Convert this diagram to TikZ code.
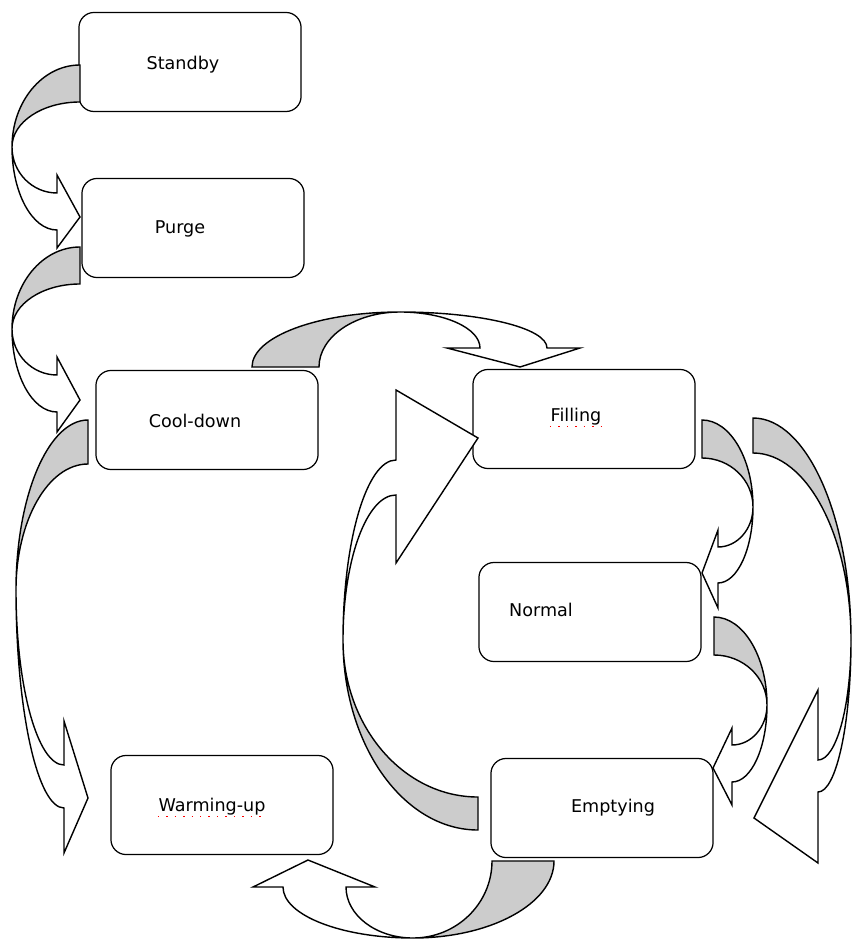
\documentclass[tikz,border=0pt]{standalone}
\usepackage{fontspec}
\setmainfont{DejaVu Sans}
\definecolor{bandgray}{RGB}{204,204,204}

\begin{document}
\begin{tikzpicture}[x=0.01cm, y=-0.01cm,
    state/.style={draw, fill=white, line width=0.35pt, rounded corners=4.3pt,
        minimum width=2.22cm, minimum height=0.99cm, inner sep=0pt},
    lbl/.style={inner sep=0pt, font=\fontsize{5}{6}\selectfont},
    band/.style={draw, line width=0.4pt, line join=miter},
    back/.style={band, fill=bandgray},
    front/.style={band, fill=white},
    spell/.style={red, dotted, line width=0.4pt}]

    \useasboundingbox (0,0) rectangle (852,940);

    %% States

    % Standby
    \node[state] (standby) at (190,62) {};
    \node[lbl] (standbytxt) at ([shift={(-7,3)}]standby.center) {Standby};

    % Purge
    \node[state] (purge) at (193,228) {};
    \node[lbl] (purgetxt) at ([shift={(-13,1)}]purge.center) {Purge};

    % Cool-down
    \node[state] (cooldown) at (207,420) {};
    \node[lbl] (cooldowntxt) at ([shift={(-12,1)}]cooldown.center) {Cool-down};

    % Filling
    \node[state] (filling) at (584,419) {};
    \node[lbl] (fillingtxt) at ([shift={(-8,-2)}]filling.center) {Filling};
    \draw[spell] ([yshift=-1.3pt]fillingtxt.base west) -- ([yshift=-1.3pt]fillingtxt.base east);

    % Normal
    \node[state] (normal) at (590,612) {};
    \node[lbl] (normaltxt) at ([shift={(-49,-2)}]normal.center) {Normal};

    % Emptying
    \node[state] (emptying) at (602,808) {};
    \node[lbl] (emptyingtxt) at ([shift={(11,0)}]emptying.center) {Emptying};

    % Warming-up
    \node[state] (warmingup) at (222,805) {};
    \node[lbl] (warmingtxt) at ([shift={(-10,2)}]warmingup.center) {Warming-up};
    \draw[spell] ([yshift=-1.3pt]warmingtxt.base west) -- ([yshift=-1.3pt]warmingtxt.base east);

    %% Curved arrows

    % Cool-down to Warming-up
    \draw[back] (88,420) arc[start angle=270, end angle=180, x radius=72, y radius=170]
        arc[start angle=180, end angle=270, x radius=72, y radius=126] -- cycle;
    \draw[front] (16,590) arc[start angle=180, end angle=90, x radius=48, y radius=218]
        -- (64,853) -- (88,798) -- (64,721) -- (64,765)
        arc[start angle=90, end angle=180, x radius=48, y radius=175] -- cycle;

    % Standby to Purge
    \draw[back] (80,65) arc[start angle=270, end angle=180, x radius=68, y radius=82]
        arc[start angle=180, end angle=270, x radius=68, y radius=45] -- cycle;
    \draw[front] (12,147) arc[start angle=180, end angle=90, x radius=45, y radius=83]
        -- (57,248) -- (80,217) -- (57,175) -- (57,193)
        arc[start angle=90, end angle=180, x radius=45, y radius=46] -- cycle;

    % Purge to Cool-down
    \draw[back] (80,247) arc[start angle=270, end angle=180, x radius=68, y radius=82]
        arc[start angle=180, end angle=270, x radius=68, y radius=45] -- cycle;
    \draw[front] (12,329) arc[start angle=180, end angle=90, x radius=45, y radius=83]
        -- (57,432) -- (80,400) -- (57,357) -- (57,375)
        arc[start angle=90, end angle=180, x radius=45, y radius=46] -- cycle;

    % Cool-down to Filling
    \draw[back] (252,367) arc[start angle=180, end angle=270, x radius=148, y radius=55]
        arc[start angle=270, end angle=180, x radius=81, y radius=55] -- cycle;
    \draw[front] (400,312) arc[start angle=270, end angle=360, x radius=147, y radius=36]
        -- (580,348) -- (520,367) -- (447,348) -- (480,348)
        arc[start angle=360, end angle=270, x radius=80, y radius=36] -- cycle;

    % Emptying to Filling
    \draw[back] (478,797) arc[start angle=90, end angle=180, x radius=135, y radius=157]
        arc[start angle=180, end angle=90, x radius=135, y radius=190] -- cycle;
    \draw[front] (343,640) arc[start angle=180, end angle=270, x radius=53, y radius=180]
        -- (396,390) -- (478,438) -- (396,563) -- (396,495)
        arc[start angle=270, end angle=180, x radius=53, y radius=145] -- cycle;

    % Filling to Normal
    \draw[back] (702,420) arc[start angle=270, end angle=360, x radius=51, y radius=87]
        arc[start angle=360, end angle=270, x radius=51, y radius=49] -- cycle;
    \draw[front] (753,507) arc[start angle=0, end angle=90, x radius=35, y radius=76]
        -- (718,608) -- (702,573) -- (718,530) -- (718,547)
        arc[start angle=90, end angle=0, x radius=35, y radius=40] -- cycle;

    % Normal to Emptying
    \draw[back] (714,617) arc[start angle=270, end angle=360, x radius=53, y radius=88]
        arc[start angle=360, end angle=270, x radius=53, y radius=50] -- cycle;
    \draw[front] (767,705) arc[start angle=0, end angle=90, x radius=35, y radius=77]
        -- (732,805) -- (713,768) -- (732,728) -- (732,745)
        arc[start angle=90, end angle=0, x radius=35, y radius=40] -- cycle;

    % Filling to Emptying
    \draw[back] (753,418) arc[start angle=270, end angle=360, x radius=98, y radius=222]
        arc[start angle=360, end angle=270, x radius=98, y radius=187] -- cycle;
    \draw[front] (851,640) arc[start angle=0, end angle=90, x radius=33, y radius=152]
        -- (818,863) -- (754,818) -- (818,690) -- (818,760)
        arc[start angle=90, end angle=0, x radius=33, y radius=120] -- cycle;

    % Emptying to Warming-up
    \draw[back] (554,861) arc[start angle=0, end angle=90, x radius=141, y radius=77]
        arc[start angle=90, end angle=0, x radius=79, y radius=77] -- cycle;
    \draw[front] (413,938) arc[start angle=90, end angle=180, x radius=130, y radius=51]
        -- (253,887) -- (308,860) -- (375,887) -- (346,887)
        arc[start angle=180, end angle=90, x radius=67, y radius=51] -- cycle;

\end{tikzpicture}
\end{document}
